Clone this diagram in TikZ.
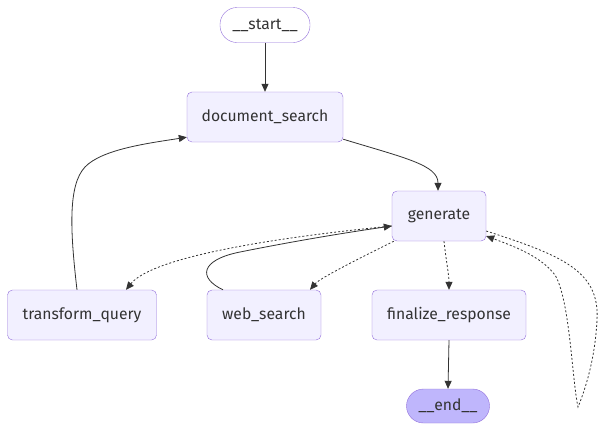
\documentclass[tikz,border=0pt]{standalone}
\usepackage{fontspec}
\setmainfont{Fira Sans}
\usetikzlibrary{arrows.meta}
\definecolor{mm_line}{HTML}{333333}
\definecolor{mm_edge}{HTML}{9370DB}
\definecolor{mm_fill}{HTML}{F2F0FF}
\definecolor{mm_end}{HTML}{BFB6FC}
\begin{document}
\begin{tikzpicture}[
    x=1pt, y=-1pt,
    every node/.style={font=\fontsize{15.7}{18}\selectfont, text=mm_line},
    box/.style={rectangle, draw=mm_edge, fill=mm_fill, rounded corners=5pt,
                minimum height=50pt},
    term/.style={rectangle, draw=mm_edge, rounded corners=17pt,
                 minimum height=35pt},
    flow/.style={->, >={Stealth[length=8pt, width=7pt, inset=0pt]}, mm_line, line width=0.8pt},
    cond/.style={flow, dash pattern=on 2pt off 2pt}
]
    \useasboundingbox (0,0) rectangle (604,432);

    % Graph nodes
    \node[term, fill=white, minimum width=90pt] (start) at (265, 25) {\_\_start\_\_};
    \node[box, minimum width=156pt] (ds)  at (265, 117) {document\_search};
    \node[box, minimum width=94pt]  (gen) at (439, 216) {generate};
    \node[box, minimum width=149pt] (tq)  at (82, 315)  {transform\_query};
    \node[box, minimum width=114pt] (ws)  at (264, 315) {web\_search};
    \node[box, minimum width=154pt] (fr)  at (449, 315) {finalize\_response};
    \node[term, fill=mm_end, minimum width=83pt, minimum height=34pt] (end) at (448, 406) {\_\_end\_\_};
    \coordinate (loop) at (578, 407);

    % Plain edges
    \draw[flow] (start.south) -- (ds.north);
    \draw[flow] ([yshift=3pt]ds.south east) .. controls (405,158) and (438,165) .. ([xshift=-1pt]gen.north);
    \draw[flow] ([xshift=-5pt]tq.north) .. controls (70,230) and (68,185) .. (85,167)
        .. controls (102,149) and (150,143) .. ([yshift=5pt]ds.south west);
    \draw[flow] ([xshift=-41pt]ws.north) .. controls (198,278) and (200,260) .. (240,252)
        .. controls (300,240) and (350,232) .. ([yshift=-10pt]gen.west);
    \draw[flow] (fr.south) -- (end.north);

    % Conditional edges
    \draw[cond] ([yshift=-10pt]gen.west) .. controls (250,240) and (150,260) .. ([xshift=44pt]tq.north);
    \draw[cond] ([xshift=2pt]gen.south west) .. controls (360,258) and (320,278) .. ([xshift=46pt]ws.north);
    \draw[cond] ([xshift=5pt]gen.south) .. controls (446,260) and (449,275) .. (fr.north);
    \draw[cond] ([yshift=-15pt]gen.east) .. controls (560,255) and (600,270) .. (597,320)
        .. controls (595,360) and (585,390) .. (loop)
        .. controls (572,380) and (570,300) .. (555,275)
        .. controls (540,255) and (510,245) .. ([yshift=-20pt]gen.east);

\end{tikzpicture}
\end{document}
